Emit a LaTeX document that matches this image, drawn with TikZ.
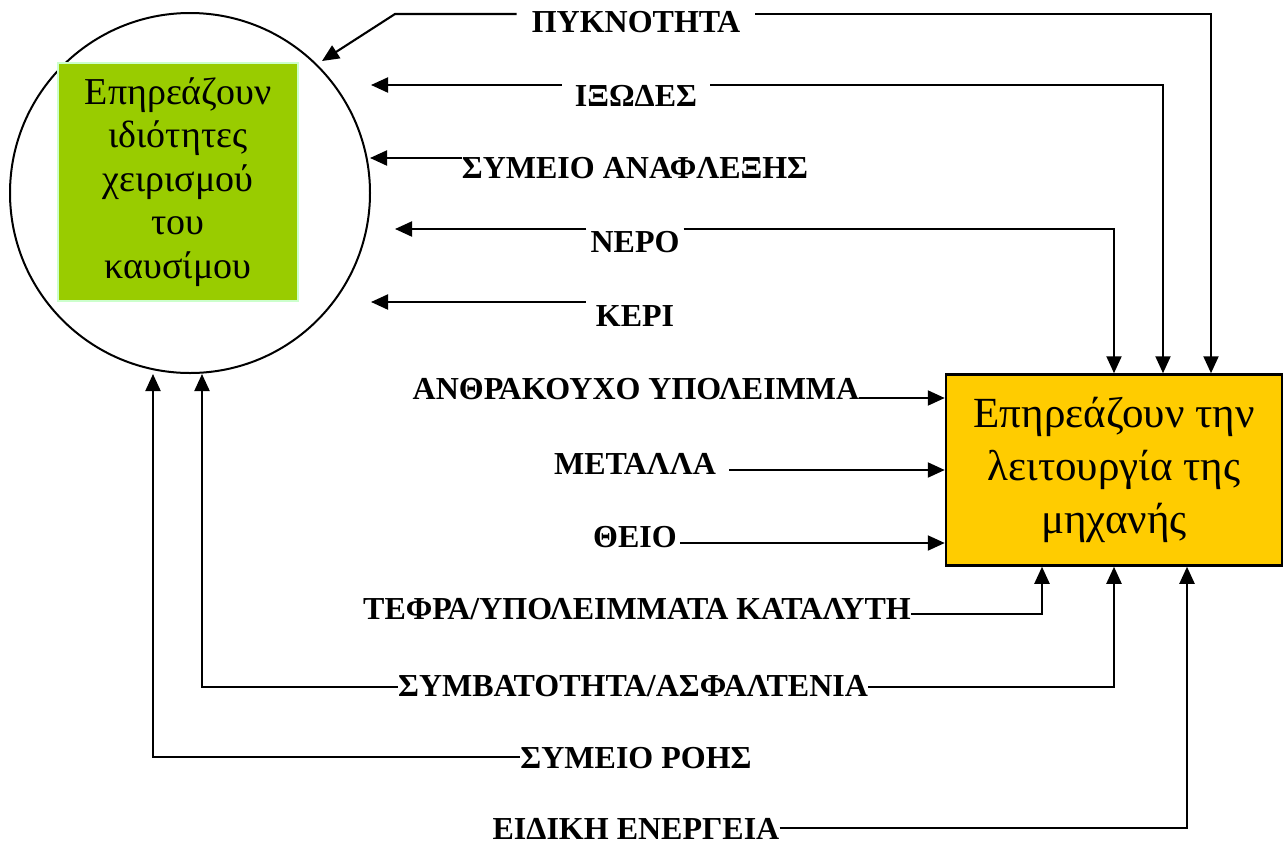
\documentclass[tikz,border=0pt]{standalone}
\usepackage{fontspec}
\setmainfont{Liberation Serif}
\usetikzlibrary{arrows.meta}
\definecolor{fuelgreen}{HTML}{99CC00}
\definecolor{fuelrim}{HTML}{CCFFCC}
\definecolor{enginegold}{HTML}{FFCC00}
\begin{document}
\begin{tikzpicture}[x=1pt,y=-1pt,
  arr/.style={draw, line width=2.1pt, -{Triangle[length=17pt,width=15pt]}},
  lbl/.style={anchor=base, inner xsep=0pt, font=\bfseries\fontsize{32}{38}\selectfont},
]
\useasboundingbox (0,0) rectangle (1284,844);

% fuel handling properties: ring with green panel
\node[circle, draw, line width=2pt, minimum size=360pt, inner sep=0pt] (ring) at (190,193) {};
\node[fill=fuelgreen, draw=fuelrim, line width=2pt, minimum width=240pt, minimum height=238pt,
      inner sep=0pt, align=center, font=\fontsize{38}{43.5}\selectfont] (fuel) at (178,182)
  {Επηρεάζουν\\ιδιότητες\\χειρισμού\\του\\καυσίμου};

% engine operation box
\node[fill=enginegold, draw, line width=2.5pt, minimum width=336pt, minimum height=191pt,
      inner sep=0pt, align=center, font=\fontsize{43}{53}\selectfont] (eng) at (1114,470)
  {Επηρεάζουν την\\λειτουργία της\\μηχανής};

% property labels
\node[lbl, inner xsep=15pt] (pyk)   at (636,32)  {ΠΥΚΝΟΤΗΤΑ};
\node[lbl, inner xsep=13pt] (ixo)   at (636,106) {ΙΞΩΔΕΣ};
\node[lbl]                  (ana)   at (635,178) {ΣΥΜΕΙΟ ΑΝΑΦΛΕΞΗΣ};
\node[lbl, inner xsep=4pt]  (nero)  at (635,252) {ΝΕΡΟ};
\node[lbl, inner xsep=10pt] (keri)  at (635,326) {ΚΕΡΙ};
\node[lbl]                  (anth)  at (636,399) {ΑΝΘΡΑΚΟΥΧΟ ΥΠΟΛΕΙΜΜΑ};
\node[lbl, inner xsep=13pt] (met)   at (635,474) {ΜΕΤΑΛΛΑ};
\node[lbl, inner xsep=3pt]  (theio) at (635,547) {ΘΕΙΟ};
\node[lbl]                  (tefra) at (637,619) {ΤΕΦΡΑ/ΥΠΟΛΕΙΜΜΑΤΑ ΚΑΤΑΛΥΤΗ};
\node[lbl]                  (symv)  at (633,696) {ΣΥΜΒΑΤΟΤΗΤΑ/ΑΣΦΑΛΤΕΝΙΑ};
\node[lbl]                  (roi)   at (636,768) {ΣΥΜΕΙΟ ΡΟΗΣ};
\node[lbl]                  (eid)   at (636,839) {ΕΙΔΙΚΗ ΕΝΕΡΓΕΙΑ};

% arrow ends next to the ring
\coordinate (pykBend) at (395,14);
\coordinate (tipPyk)  at (322,61);
\coordinate (tipIxo)  at (371,85);
\coordinate (tipAna)  at (370,158);
\coordinate (tipNero) at (395,229);
\coordinate (tipKeri) at (371,302);
\coordinate (tipSymv) at (202,374);
\coordinate (tipRoi)  at (153,374);

% connectors towards the fuel ring
\draw[arr] (pyk.west |- 0,14) -- (pykBend) -- (tipPyk);
\draw[arr] (ixo.west |- 0,85) -- (tipIxo);
\draw[arr] (ana.west |- 0,158) -- (tipAna);
\draw[arr] (nero.west |- 0,229) -- (tipNero);
\draw[arr] (keri.west |- 0,302) -- (tipKeri);
\draw[arr] (symv.west |- 0,687) -| (tipSymv);
\draw[arr] (roi.west |- 0,757) -| (tipRoi);

% connectors towards the engine box
\draw[arr] (pyk.east |- 0,14) -| ([xshift=97pt]eng.north);
\draw[arr] (ixo.east |- 0,85) -| ([xshift=49pt]eng.north);
\draw[arr] (nero.east |- 0,229) -| (eng.north);
\draw[arr] (anth.east |- 0,398) -- (eng.west |- 0,398);
\draw[arr] (met.east |- 0,470) -- (eng.west |- 0,470);
\draw[arr] (theio.east |- 0,543) -- (eng.west |- 0,543);
\draw[arr] (tefra.east |- 0,614) -| ([xshift=-72pt]eng.south);
\draw[arr] (symv.east |- 0,687) -| (eng.south);
\draw[arr] (eid.east |- 0,828) -| ([xshift=73pt]eng.south);
\end{tikzpicture}
\end{document}
